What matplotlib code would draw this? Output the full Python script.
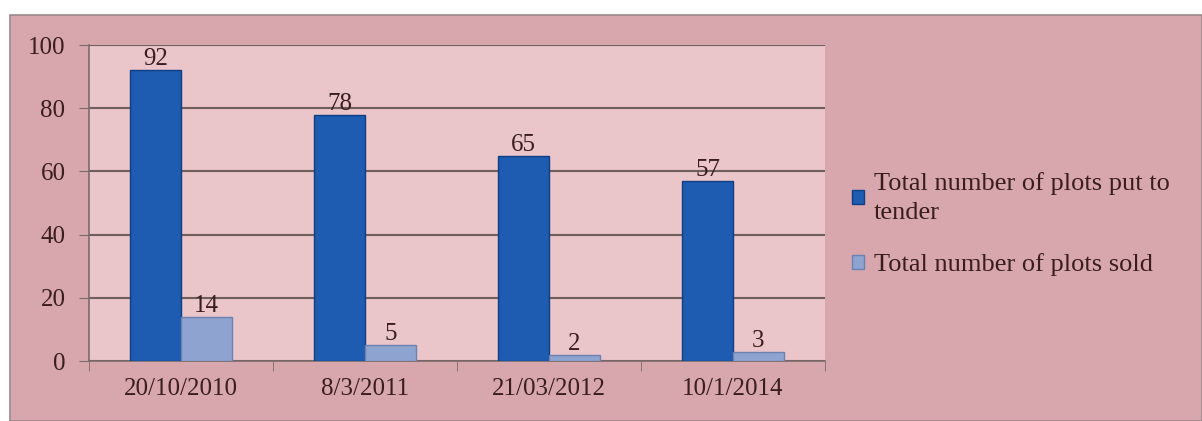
import matplotlib
matplotlib.use("Agg")
import matplotlib.pyplot as plt
from matplotlib.patches import Rectangle
import numpy as np

categories = ["20/10/2010", "8/3/2011", "21/03/2012", "10/1/2014"]
tendered = [92, 78, 65, 57]
sold = [14, 5, 2, 3]
series_names = ["Total number of plots put to\ntender", "Total number of plots sold"]
yticks = [0, 20, 40, 60, 80, 100]

plt.rcParams['font.family'] = ['Liberation Serif', 'DejaVu Serif']
W, H = 1202, 421
fig = plt.figure(figsize=(W / 100, H / 100), dpi=100)
fig.patch.set_facecolor("white")

# outer pink frame
frame = Rectangle((10 / W, 0), 1 - 10 / W, (H - 15) / H, transform=fig.transFigure,
                  facecolor="#d8a7ae", edgecolor="#9a8a8c", linewidth=1.2, zorder=-10)
fig.add_artist(frame)

ax = fig.add_axes([89 / W, (H - 361) / H, (825 - 89) / W, (361 - 45) / H])
ax.set_zorder(1)
ax.set_facecolor("#eac5c9")

x = np.arange(len(categories))
bw = 0.277
text_c = "#3a1e1e"
fs = 18
b1 = ax.bar(x - bw / 2, tendered, bw, color="#1d5cb0", edgecolor="#0f3f86", linewidth=1.0,
            label=series_names[0], zorder=3)
b2 = ax.bar(x + bw / 2, sold, bw, color="#8ea3cf", edgecolor="#6b82b3", linewidth=1.0,
            label=series_names[1], zorder=3)
for bars in (b1, b2):
    for r in bars:
        ax.annotate(f"{int(r.get_height())}", (r.get_x() + r.get_width() / 2, r.get_height()),
                    xytext=(0, 0), textcoords="offset points", ha="center", va="bottom",
                    fontsize=fs, color=text_c)

ax.set_xlim(-0.5, len(categories) - 0.5)
ax.set_ylim(0, 100)
ax.set_yticks(yticks)
ax.set_yticklabels([str(v) for v in yticks], fontsize=fs, color=text_c)
ax.yaxis.grid(True, color="#6e5e5e", linewidth=1.5, zorder=1)
ax.set_axisbelow(True)
ax.tick_params(axis="y", length=7, color="#7a6a6a", pad=10)

ax.set_xticks(x)
ax.set_xticklabels(categories, fontsize=fs, color=text_c)
ax.set_xticks(np.arange(-0.5, len(categories), 1.0), minor=True)
ax.tick_params(axis="x", which="major", length=0, pad=12)
ax.tick_params(axis="x", which="minor", length=7, color="#7a6a6a")

for s in ["top", "right"]:
    ax.spines[s].set_visible(False)
for s in ["left", "bottom"]:
    ax.spines[s].set_color("#7a6a6a")
    ax.spines[s].set_linewidth(1.2)

leg = fig.legend(handles=[b1, b2], loc="upper left", bbox_to_anchor=(828 / W, 1 - 148 / H),
                 frameon=False, fontsize=19, handlelength=0.45, handleheight=0.45,
                 handletextpad=0.4, labelspacing=1.1, labelcolor=text_c)
for t in leg.get_texts():
    t.set_linespacing(1.45)
leg.set_zorder(5)

fig.savefig("out.png", dpi=100)
